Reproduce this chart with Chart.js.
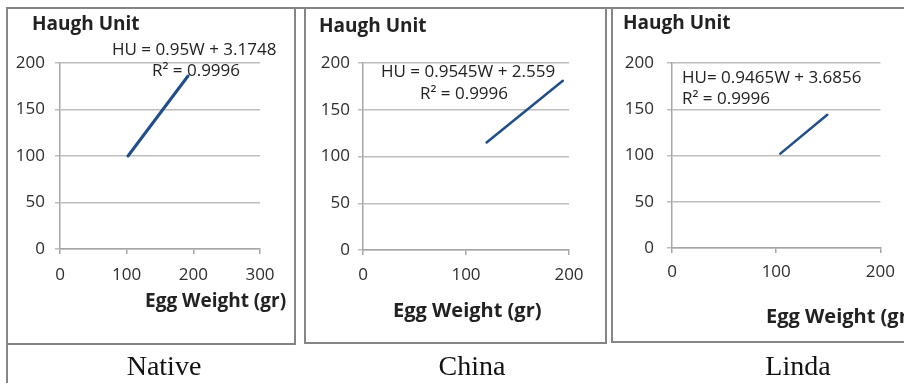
<!DOCTYPE html>
<html>
<head>
<meta charset="utf-8">
<script src="https://cdn.jsdelivr.net/npm/chart.js@4.4.1/dist/chart.umd.min.js"></script>
<style>
    html, body { margin: 0; padding: 0; background: #fff; }
    #page { position: relative; width: 904px; height: 383px; overflow: hidden; }
    #page canvas { position: absolute; left: 0; top: 0; }
    .rule { position: absolute; background: #858585; }
    .box { position: absolute; border: 2px solid #858585; box-sizing: border-box; }
    .caption {
        position: absolute; font-family: "Liberation Serif", "Times New Roman", serif;
        font-size: 28px; line-height: 1; color: #111; white-space: nowrap;
        transform: translateX(-50%);
    }
</style>
</head>
<body>
<div id="page">
    <!-- cadre du tableau -->
    <div class="rule" style="left:6px; top:7px; width:898px; height:2px;"></div>
    <div class="rule" style="left:6px; top:7px; width:2px; height:376px;"></div>
    <div class="box" style="left:6px; top:7px; width:290px; height:338px;"></div>
    <div class="box" style="left:304px; top:7px; width:303px; height:337px;"></div>
    <div class="box" style="left:611px; top:7px; width:310px; height:336px;"></div>

    <canvas id="chartNative" width="904" height="383"></canvas>
    <canvas id="chartChina" width="904" height="383"></canvas>
    <canvas id="chartLinda" width="904" height="383"></canvas>

    <div class="caption" id="cap0" style="left:164px; top:352px;"></div>
    <div class="caption" id="cap1" style="left:472px; top:352px;"></div>
    <div class="caption" id="cap2" style="left:798px; top:352px;"></div>
</div>

<script>
// Données
const panelNames = ['Native', 'China', 'Linda'];

const nativeWeight = [102, 192];
const nativeHU = [100, 186];
const chinaWeight = [120, 194];
const chinaHU = [115, 181];
const lindaWeight = [104, 149];
const lindaHU = [102, 144];

const huTicks = [0, 50, 100, 150, 200];
const nativeWeightTicks = [0, 100, 200, 300];
const chinaWeightTicks = [0, 100, 200];
const lindaWeightTicks = [0, 100, 200];

const equations = ['HU = 0.95W + 3.1748', 'HU = 0.9545W + 2.559', 'HU= 0.9465W + 3.6856'];
const rSquared = ['R² = 0.9996', 'R² = 0.9996', 'R² = 0.9996'];

const yTitle = 'Haugh Unit';
const xTitle = 'Egg Weight (gr)';

// Couleurs et polices
const LINE_COLOR = '#1f4e8c';
const GRID_COLOR = '#bdbdbd';
const AXIS_COLOR = '#a6a6a6';
const TICK_COLOR = '#2e2e2e';
const TEXT_COLOR = '#222222';
const FONT = '"Open Sans", "Noto Sans", sans-serif';

// Plugin pour les titres d'axes et l'équation
function makeTextPlugin(items) {
    return {
        id: 'panelText',
        beforeDatasetsDraw(chart) {
            const ctx = chart.ctx;
            ctx.save();
            ctx.textAlign = 'left';
            ctx.textBaseline = 'alphabetic';
            items.forEach(t => {
                ctx.font = t.font;
                ctx.fillStyle = t.color;
                ctx.fillText(t.text, t.x, t.y);
            });
            ctx.restore();
        }
    };
}

// Construire un graphique
function buildChart(canvasId, weights, hu, weightTicks, area, style, texts) {
    const points = weights.map((w, i) => ({ x: w, y: hu[i] }));
    const ctx = document.getElementById(canvasId).getContext('2d');
    const Y_WIDTH = 60;
    const X_HEIGHT = 60;

    return new Chart(ctx, {
        type: 'scatter',
        data: {
            datasets: [{
                data: points,
                showLine: true,
                borderColor: LINE_COLOR,
                borderWidth: style.lineWidth,
                pointRadius: 0,
                borderCapStyle: 'round'
            }]
        },
        options: {
            responsive: false,
            animation: false,
            events: [],
            layout: {
                padding: {
                    left: area.left - Y_WIDTH,
                    top: area.top,
                    right: 904 - area.right,
                    bottom: 383 - area.bottom - X_HEIGHT
                }
            },
            plugins: {
                legend: { display: false },
                tooltip: { enabled: false }
            },
            scales: {
                x: {
                    type: 'linear',
                    min: weightTicks[0],
                    max: weightTicks[weightTicks.length - 1],
                    afterBuildTicks: scale => { scale.ticks = weightTicks.map(v => ({ value: v })); },
                    afterFit: scale => { scale.height = X_HEIGHT; },
                    grid: {
                        drawOnChartArea: false,
                        drawTicks: true,
                        tickLength: 5,
                        color: AXIS_COLOR,
                        lineWidth: 1.5
                    },
                    border: { display: true, color: AXIS_COLOR, width: 1.5 },
                    ticks: {
                        color: TICK_COLOR,
                        font: { family: FONT, size: style.tickSize },
                        padding: style.xPad,
                        maxRotation: 0
                    }
                },
                y: {
                    type: 'linear',
                    min: huTicks[0],
                    max: huTicks[huTicks.length - 1],
                    afterBuildTicks: scale => { scale.ticks = huTicks.map(v => ({ value: v })); },
                    afterFit: scale => { scale.width = Y_WIDTH; },
                    grid: {
                        drawTicks: true,
                        tickLength: 5,
                        color: GRID_COLOR,
                        lineWidth: 1.5
                    },
                    border: { display: true, color: AXIS_COLOR, width: 1.5 },
                    ticks: {
                        color: TICK_COLOR,
                        font: { family: FONT, size: style.tickSize },
                        padding: style.yPad
                    }
                }
            }
        },
        plugins: [makeTextPlugin(texts)]
    });
}

// Initialisation
document.addEventListener('DOMContentLoaded', () => {
    panelNames.forEach((name, i) => {
        document.getElementById('cap' + i).textContent = name;
    });

    buildChart('chartNative', nativeWeight, nativeHU, nativeWeightTicks,
        { left: 60, top: 63, right: 260, bottom: 249 },
        { lineWidth: 3, tickSize: 17, xPad: 11, yPad: 10 },
        [
            { text: yTitle, x: 32, y: 30, font: 'bold 19px ' + FONT, color: TEXT_COLOR },
            { text: xTitle, x: 145, y: 307, font: 'bold 19px ' + FONT, color: TEXT_COLOR },
            { text: equations[0], x: 112, y: 55, font: '17px ' + FONT, color: TEXT_COLOR },
            { text: rSquared[0], x: 152, y: 76, font: '17px ' + FONT, color: TEXT_COLOR }
        ]);

    buildChart('chartChina', chinaWeight, chinaHU, chinaWeightTicks,
        { left: 363, top: 63, right: 569, bottom: 250 },
        { lineWidth: 2.5, tickSize: 17, xPad: 10, yPad: 8 },
        [
            { text: yTitle, x: 319, y: 32, font: 'bold 19px ' + FONT, color: TEXT_COLOR },
            { text: xTitle, x: 393, y: 317, font: 'bold 20px ' + FONT, color: TEXT_COLOR },
            { text: equations[1], x: 381, y: 77, font: '17px ' + FONT, color: TEXT_COLOR },
            { text: rSquared[1], x: 420, y: 99, font: '17px ' + FONT, color: TEXT_COLOR }
        ]);

    buildChart('chartLinda', lindaWeight, lindaHU, lindaWeightTicks,
        { left: 672, top: 63, right: 882, bottom: 248 },
        { lineWidth: 2.5, tickSize: 17, xPad: 9, yPad: 13 },
        [
            { text: yTitle, x: 623, y: 29, font: 'bold 19px ' + FONT, color: TEXT_COLOR },
            { text: xTitle, x: 766, y: 323, font: 'bold 20px ' + FONT, color: TEXT_COLOR },
            { text: equations[2], x: 682, y: 83, font: '17px ' + FONT, color: TEXT_COLOR },
            { text: rSquared[2], x: 682, y: 104, font: '17px ' + FONT, color: TEXT_COLOR }
        ]);
});
</script>
</body>
</html>
